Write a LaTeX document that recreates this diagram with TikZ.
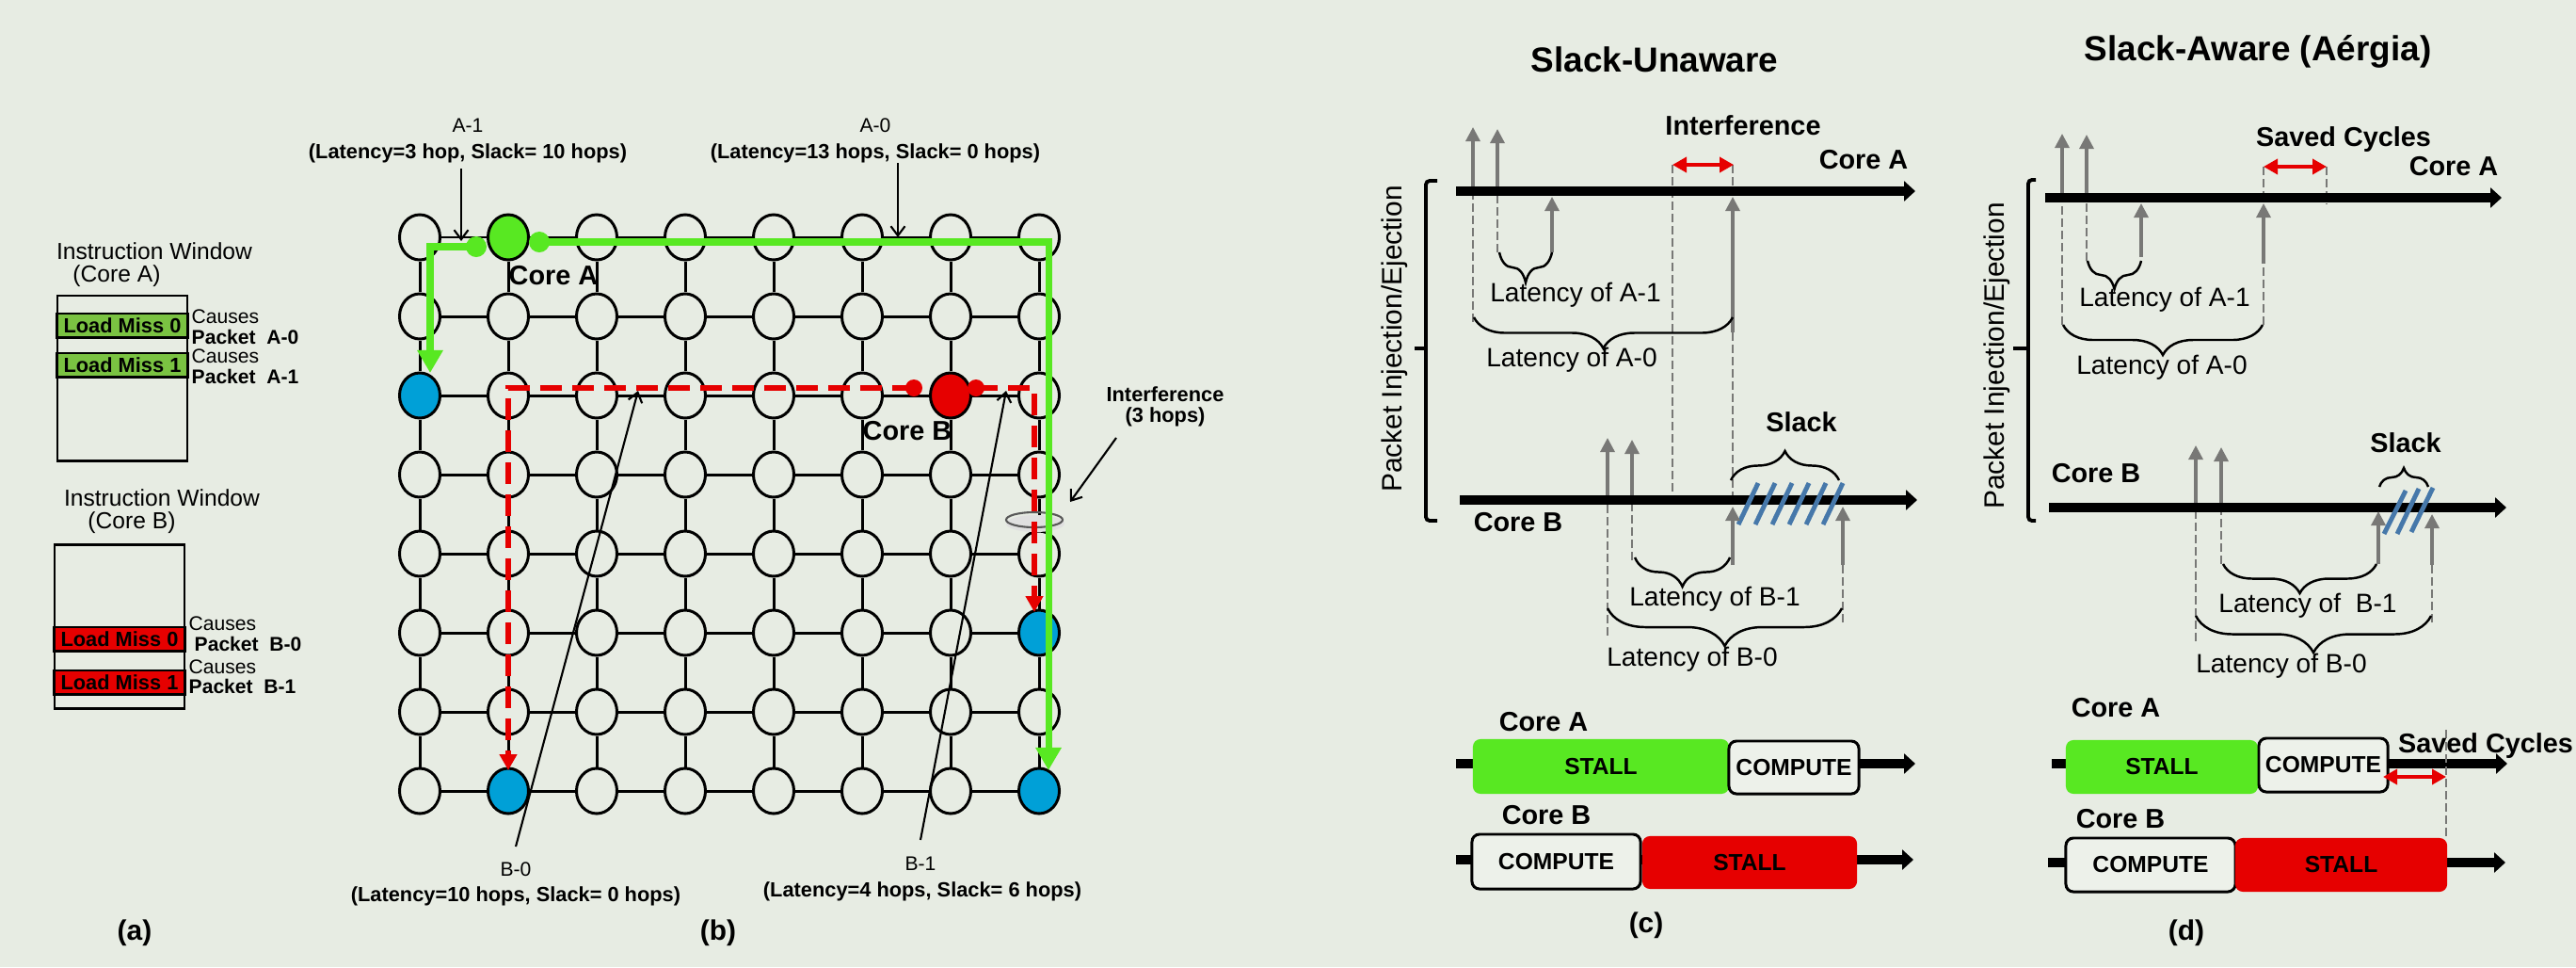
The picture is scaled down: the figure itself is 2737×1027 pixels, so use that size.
\documentclass[tikz,border=0pt]{standalone}
\usepackage{fontspec}
\setmainfont{Liberation Sans}
\usetikzlibrary{arrows.meta,shapes.geometric,decorations.pathreplacing}
\definecolor{bgc}{RGB}{231,236,227}
\definecolor{pgreen}{RGB}{88,232,34}
\definecolor{lgreen}{RGB}{122,194,66}
\definecolor{pred}{RGB}{230,0,0}
\definecolor{pblue}{RGB}{0,160,215}
\definecolor{agrey}{RGB}{120,120,118}
\definecolor{hblue}{RGB}{70,120,170}
\definecolor{cfill}{RGB}{237,241,234}
\newcommand\myfs[1]{\fontsize{#1}{#1}\selectfont}
\begin{document}
\begin{tikzpicture}[x=0.01cm,y=-0.01cm,
  lbl/.style={inner sep=0pt,align=center},
  tA/.style={lbl,font=\myfs{7pt}},
  tS/.style={lbl,anchor=west,font=\myfs{6pt}},
  tSB/.style={lbl,anchor=west,font=\bfseries\myfs{6pt}},
  tNm/.style={lbl,font=\myfs{6pt}},
  tNb/.style={lbl,font=\bfseries\myfs{6.2pt}},
  tSub/.style={lbl,font=\bfseries\myfs{8.5pt}},
  tTitle/.style={lbl,font=\bfseries\myfs{10.5pt}},
  tCore/.style={lbl,font=\bfseries\myfs{8.2pt}},
  tLat/.style={lbl,font=\myfs{8pt}},
  tRot/.style={lbl,font=\myfs{8.5pt},rotate=90},
  gnode/.style={ellipse,draw=black,line width=0.85pt,fill=bgc,minimum width=0.43cm,minimum height=0.48cm,inner sep=0pt},
  gline/.style={line width=0.85pt},
  gdot/.style={circle,fill=pgreen,minimum size=0.22cm,inner sep=0pt},
  rdot/.style={circle,fill=pred,minimum size=0.18cm,inner sep=0pt},
  gpath/.style={pgreen,line width=2pt,-{Triangle[length=0.24cm,width=0.26cm]}},
  rpath/.style={pred,line width=1.7pt,dash pattern=on 0.23cm off 0.11cm,-{Triangle[length=0.17cm,width=0.18cm]}},
  ptr/.style={line width=0.6pt,-{Straight Barb[length=0.1cm,width=0.15cm]}},
  tl/.style={line width=2.85pt,-{Triangle[length=0.12cm,width=0.21cm]}},
  garr/.style={agrey,line width=0.9pt,-{Triangle[length=0.15cm,width=0.15cm]}},
  gdash/.style={agrey,line width=0.8pt,dash pattern=on 0.09cm off 0.04cm},
  rdarr/.style={pred,line width=1pt,{Triangle[length=0.15cm,width=0.16cm]}-{Triangle[length=0.15cm,width=0.16cm]}},
  brcd/.style={decorate,decoration={brace,mirror,amplitude=#1},line width=0.7pt},
  brcu/.style={decorate,decoration={brace,amplitude=#1},line width=0.7pt},
  hatch/.style={hblue,line width=1.4pt},
  bar/.style={rectangle,rounded corners=0.08cm,inner sep=0pt,font=\bfseries\myfs{7pt}},
  comp/.style={bar,draw=black,line width=0.85pt,fill=cfill},
  band/.style={rectangle,draw=black,line width=0.85pt,minimum width=1.38cm,minimum height=0.25cm,inner sep=0pt,font=\bfseries\myfs{6.2pt}},
  ibox/.style={line width=0.85pt},
  brk/.style={line width=1.1pt,rounded corners=0.04cm},
]
\useasboundingbox (0,0) rectangle (2737,1027);
\fill[bgc] (0,0) rectangle (2737,1027);

% ---------------- (a) ----------------
\node[tA] (iwA) at (164,267) {Instruction Window};
\node[tA] (iwAc) at (124,293) {(Core A)};
\draw[ibox] (61,314) rectangle (199,489);
\node[band,fill=lgreen] (lmA0) at (130,345.5) {Load Miss 0};
\node[band,fill=lgreen] (lmA1) at (130,387.5) {Load Miss 1};
\node[tS] (cA0) at (203,336) {Causes};
\node[tSB] (pA0) at (203,358) {Packet~~A-0};
\node[tS] (cA1) at (203,378) {Causes};
\node[tSB] (pA1) at (203,400) {Packet~~A-1};

\node[tA] (iwB) at (172,529) {Instruction Window};
\node[tA] (iwBc) at (140,555) {(Core B)};
\draw[ibox] (58,578) rectangle (196,752);
\node[band,fill=pred] (lmB0) at (127,678.5) {Load Miss 0};
\node[band,fill=pred] (lmB1) at (127,724.5) {Load Miss 1};
\node[tS] (cB0) at (200,662) {Causes};
\node[tSB] (pB0) at (206,684) {Packet~~B-0};
\node[tS] (cB1) at (200,708) {Causes};
\node[tSB] (pB1) at (200,729) {Packet~~B-1};
\node[tSub] (capa) at (143,991) {(a)};

% ---------------- (b) ----------------
\foreach \c in {0,...,7}{\foreach \r in {0,...,7}{
  \def\fc{bgc}
  \ifnum\c\r=10 \def\fc{pgreen}\fi
  \ifnum\c\r=2 \def\fc{pblue}\fi
  \ifnum\c\r=62 \def\fc{pred}\fi
  \ifnum\c\r=75 \def\fc{pblue}\fi
  \ifnum\c\r=17 \def\fc{pblue}\fi
  \ifnum\c\r=77 \def\fc{pblue}\fi
  \node[gnode,fill=\fc] (g\c\r) at ({446+94*\c},{252+84*\r}) {};
}}
\foreach \c in {0,...,6}{\foreach \r in {0,...,7}{
  \pgfmathtruncatemacro\cn{\c+1}
  \draw[gline] (g\c\r) -- (g\cn\r);
}}
\foreach \c in {0,...,7}{\foreach \r in {0,...,6}{
  \pgfmathtruncatemacro\rn{\r+1}
  \draw[gline] (g\c\r) -- (g\c\rn);
}}

\fill[black!12] (1100,556) ellipse [x radius=0.31cm, y radius=0.09cm];
\node[ellipse,draw=black!65,line width=0.6pt,minimum width=0.6cm,minimum height=0.16cm,inner sep=0pt] (intf) at (1099,552) {};

\coordinate (gA1e) at (457,396);
\coordinate (gA0e) at (1114,818);
\coordinate (rB0e) at (540,818);
\coordinate (rB1e) at (1099,650);
\coordinate (dA1p) at (506,262);
\coordinate (dA0p) at (573,257);
\coordinate (dB0p) at (971,412);
\coordinate (dB1p) at (1037,412);
\draw[rpath] (dB0p) -| (rB0e);
\draw[rpath] (dB1p) -| (rB1e);
\draw[gpath] (dA1p) -| (gA1e);
\draw[gpath] (dA0p) -| (gA0e);
\node[gdot] (dA1) at (dA1p) {};
\node[gdot] (dA0) at (dA0p) {};
\node[rdot] (dB0) at (dB0p) {};
\node[rdot] (dB1) at (dB1p) {};

\node[tCore,anchor=west] (coreAb) at (540,293) {Core A};
\node[tCore,anchor=west] (coreBb) at (916,458) {Core B};

\node[tNm] (nA1) at (497,133) {A-1};
\node[tNb] (lA1) at (497,163) {(Latency=3 hop, Slack= 10 hops)};
\node[tNm] (nA0) at (930,133) {A-0};
\node[tNb] (lA0) at (930,163) {(Latency=13 hops, Slack= 0 hops)};
\node[tNm] (nB0) at (548,923) {B-0};
\node[tNb] (lB0) at (548,952) {(Latency=10 hops, Slack= 0 hops)};
\node[tNm] (nB1) at (978,917) {B-1};
\node[tNb] (lB1) at (980,947) {(Latency=4 hops, Slack= 6 hops)};
\node[tNb] (lI1) at (1238,419) {Interference};
\node[tNb] (lI2) at (1238,443) {(3 hops)};

\coordinate (pA1s) at (490,179); \coordinate (pA1e) at (490,256);
\coordinate (pA0s) at (954,173); \coordinate (pA0e) at (954,252);
\coordinate (pB0s) at (548,899); \coordinate (pB0e) at (678,415);
\coordinate (pB1s) at (978,892); \coordinate (pB1e) at (1069,415);
\coordinate (pIs) at (1186,465); \coordinate (pIe) at (1137,533);
\draw[ptr] (pA1s) -- (pA1e);
\draw[ptr] (pA0s) -- (pA0e);
\draw[ptr] (pB0s) -- (pB0e);
\draw[ptr] (pB1s) -- (pB1e);
\draw[ptr] (pIs) -- (pIe);
\node[tSub] (capb) at (763,991) {(b)};

% ---------------- (c) ----------------
\node[tTitle] (titc) at (1758,63) {Slack-Unaware};
\draw[brk] (1527,192) -- (1515,192) -- (1515,553) -- (1527,553);
\draw[line width=1.1pt] (1515,370) -- (1503,370);
\node[tRot] (piec) at (1482,360) {Packet Injection/Ejection};

% Core A timeline
\draw[gdash] (1565,342) -- (1565,203);
\draw[garr] (1565,203) -- (1565,135);
\draw[gdash] (1591,268) -- (1591,203);
\draw[garr] (1591,203) -- (1591,137);
\draw[gdash] (1777,175) -- (1777,531);
\draw[gdash] (1841,175) -- (1841,203);
\draw[gdash] (1841,353) -- (1841,531);
\draw[tl] (1547,203) -- (2035,203);
\draw[garr] (1649,268) -- (1649,209);
\draw[garr] (1841,353) -- (1841,209);
\draw[rdarr] (1777,175) -- (1842,175);
\node[tCore] (cAc) at (1980,170) {Core A};
\node[tCore] (intc) at (1852,133) {Interference};
\draw[brcd=0.32cm] (1593,268) -- (1649,268);
\node[tLat] (lA1c) at (1674,313) {Latency of A-1};
\draw[brcd=0.33cm] (1566,337) -- (1841,337);
\node[tLat] (lA0c) at (1670,382) {Latency of A-0};

% Core B timeline
\draw[gdash] (1708,675) -- (1708,531);
\draw[garr] (1708,531) -- (1708,465);
\draw[gdash] (1734,595) -- (1734,531);
\draw[garr] (1734,531) -- (1734,467);
\draw[gdash] (1958,661) -- (1958,600);
\draw[tl] (1551,531) -- (2037,531);
\foreach \i in {0,...,5}{
  \draw[hatch] ({1847+18*\i},557) -- ({1868+18*\i},513);
}
\draw[garr] (1841,600) -- (1841,538);
\draw[garr] (1958,600) -- (1958,538);
\node[tCore] (cBc) at (1613,555) {Core B};
\draw[brcu=0.31cm] (1839,510) -- (1954,510);
\node[tCore] (slc) at (1914,448) {Slack};
\draw[brcd=0.31cm] (1737,592) -- (1838,592);
\node[tLat] (lB1c) at (1822,636) {Latency of B-1};
\draw[brcd=0.4cm] (1708,646) -- (1957,646);
\node[tLat] (lB0c) at (1798,700) {Latency of B-0};

% bars
\node[tCore] (bAc) at (1640,767) {Core A};
\draw[tl] (1547,811) -- (2035,811);
\node[bar,fill=pgreen,minimum width=2.72cm,minimum height=0.58cm] (stAc) at (1701,814) {STALL};
\node[comp,minimum width=1.38cm,minimum height=0.56cm] (cpAc) at (1906,815) {COMPUTE};
\node[tCore] (bBc) at (1643,866) {Core B};
\draw[tl] (1547,913) -- (2033,913);
\node[comp,minimum width=1.79cm,minimum height=0.58cm] (cpBc) at (1653.5,915) {COMPUTE};
\node[bar,fill=pred,minimum width=2.28cm,minimum height=0.56cm] (stBc) at (1859,916) {STALL};
\node[tSub] (capc) at (1749,983) {(c)};

% ---------------- (d) ----------------
\node[tTitle] (titd) at (2399,55) {Slack-Aware (Aérgia)};
\draw[brk] (2163,191) -- (2155,191) -- (2155,553) -- (2163,553);
\draw[line width=1.1pt] (2155,370) -- (2139,370);
\node[tRot] (pied) at (2122,378) {Packet Injection/Ejection};

% Core A timeline
\draw[gdash] (2191,345) -- (2191,210);
\draw[garr] (2191,210) -- (2191,142);
\draw[gdash] (2217,277) -- (2217,210);
\draw[garr] (2217,210) -- (2217,143);
\draw[gdash] (2405,177) -- (2405,210);
\draw[gdash] (2472,177) -- (2472,217);
\draw[gdash] (2405,345) -- (2405,280);
\draw[tl] (2173,210) -- (2658,210);
\draw[garr] (2275,273) -- (2275,216);
\draw[garr] (2405,280) -- (2405,216);
\draw[rdarr] (2405,177) -- (2472,177);
\node[tCore] (cAd) at (2607,177) {Core A};
\node[tCore] (scd) at (2490,148) {Saved Cycles};
\draw[brcd=0.3cm] (2218,277) -- (2275,277);
\node[tLat] (lA1d) at (2300,318) {Latency of A-1};
\draw[brcd=0.32cm] (2192,345) -- (2404,345);
\node[tLat] (lA0d) at (2297,390) {Latency of A-0};

% Core B timeline
\draw[gdash] (2333,681) -- (2333,539);
\draw[garr] (2333,539) -- (2333,473);
\draw[gdash] (2360,599) -- (2360,539);
\draw[garr] (2360,539) -- (2360,475);
\draw[gdash] (2584,661) -- (2584,600);
\draw[tl] (2177,539) -- (2663,539);
\draw[hatch] (2533,567) -- (2556,521);
\draw[hatch] (2547,567) -- (2570,519);
\draw[hatch] (2562,565) -- (2585,518);
\draw[garr] (2527,599) -- (2527,543);
\draw[garr] (2584,600) -- (2584,546);
\node[tCore] (cBd) at (2227,503) {Core B};
\draw[brcu=0.2cm] (2528,517) -- (2580,517);
\node[tCore] (sld) at (2556,470) {Slack};
\draw[brcd=0.31cm] (2362,599) -- (2525,599);
\node[tLat] (lB1d) at (2452,643) {Latency of~~B-1};
\draw[brcd=0.39cm] (2333,654) -- (2583,654);
\node[tLat] (lB0d) at (2424,707) {Latency of B-0};

% bars
\node[tCore] (bAd) at (2248,752) {Core A};
\draw[tl] (2180,811) -- (2664,811);
\node[bar,fill=pgreen,minimum width=2.04cm,minimum height=0.57cm] (stAd) at (2297,814.5) {STALL};
\node[comp,minimum width=1.37cm,minimum height=0.57cm] (cpAd) at (2468.5,812.5) {COMPUTE};
\draw[gdash] (2599,775) -- (2599,892);
\draw[rdarr] (2532,825) -- (2599,825);
\node[tCore] (scd2) at (2641,792) {Saved Cycles};
\node[tCore] (bBd) at (2253,870) {Core B};
\draw[tl] (2176,916) -- (2662,916);
\node[comp,minimum width=1.8cm,minimum height=0.57cm] (cpBd) at (2285,918.5) {COMPUTE};
\node[bar,fill=pred,minimum width=2.25cm,minimum height=0.57cm] (stBd) at (2487.5,918.5) {STALL};
\node[tSub] (capd) at (2323,991) {(d)};
\end{tikzpicture}
\end{document}
